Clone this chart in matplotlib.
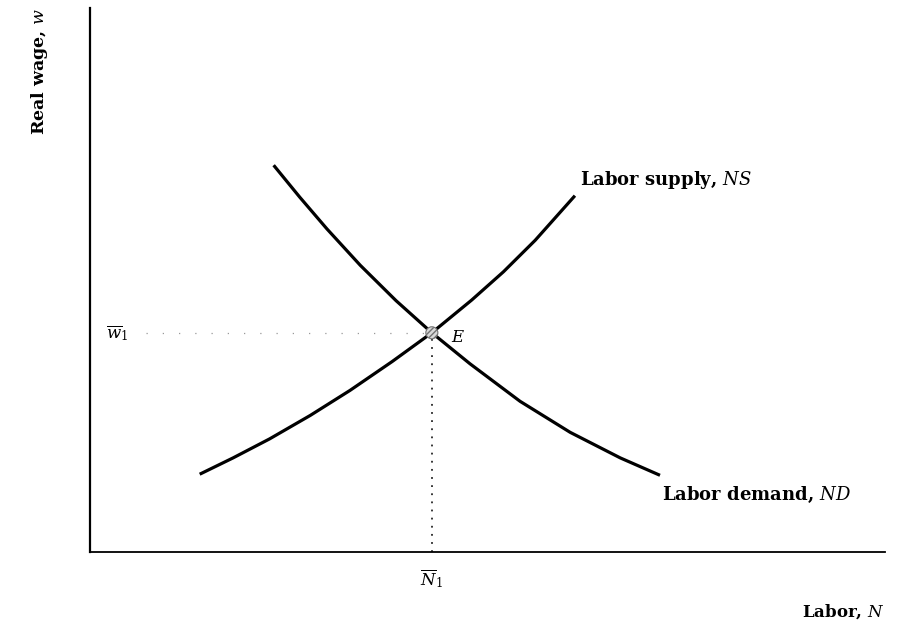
import numpy as np
import matplotlib.pyplot as plt

plt.rcParams['font.family'] = 'DejaVu Serif'
plt.rcParams['mathtext.fontset'] = 'dejavuserif'

# labor supply curve (N, w)
supply_n = [13.8, 18.0, 22.6, 27.7, 32.7, 38.0, 43.0, 48.0, 52.0, 56.0, 61.0]
supply_w = [14.3, 17.3, 20.8, 25.1, 29.7, 35.0, 40.3, 46.3, 51.5, 57.3, 65.5]

# labor demand curve (N, w)
demand_n = [23.1, 26.4, 29.8, 34.0, 38.5, 43.0, 47.8, 54.1, 60.4, 66.7, 71.7]
demand_w = [71.1, 65.2, 59.4, 52.7, 46.2, 40.3, 34.6, 27.7, 22.0, 17.3, 14.1]

# equilibrium
n_eq = 43.0
w_eq = 40.3

fig = plt.figure(figsize=(9, 6.3), dpi=100)
ax = fig.add_axes([0.1, 0.1238, 0.8833, 0.8635])
ax.set_xlim(0, 100)
ax.set_ylim(0, 100)

ax.plot(supply_n, supply_w, color='black', lw=2.3, solid_capstyle='butt')
ax.plot(demand_n, demand_w, color='black', lw=2.3, solid_capstyle='butt')

# guide lines to the axes (the horizontal one is faint in the scan)
ax.plot([7, n_eq], [w_eq, w_eq], color='0.6', lw=0.9, linestyle=(0, (1, 12)))
ax.plot([n_eq, n_eq], [0, w_eq], color='0.15', lw=1.3, linestyle=(0, (1, 3.5)))

ax.scatter([n_eq], [w_eq], s=75, facecolor='0.85', edgecolor='0.45',
           hatch='//////', linewidth=0.8, zorder=5)

ax.text(n_eq + 2.4, w_eq - 0.8, '$E$', fontsize=12, va='center', ha='left')
ax.text(61.6, 68.4, 'Labor supply, $NS$', fontsize=13, va='center', ha='left',
        fontweight='bold')
ax.text(71.9, 10.5, 'Labor demand, $ND$', fontsize=13, va='center', ha='left',
        fontweight='bold')

ax.text(n_eq, -4.8, r'$\overline{N}_1$', fontsize=12, va='center', ha='center',
        clip_on=False)
ax.text(3.4, w_eq, r'$\overline{w}_1$', fontsize=12, va='center', ha='center')

ax.text(100, -11, 'Labor, $N$', fontsize=12, va='center', ha='right',
        fontweight='bold', clip_on=False)
ax.text(-6.3, 100, 'Real wage, $w$', fontsize=12.5, va='top', ha='center',
        rotation=90, fontweight='bold', clip_on=False)

for side in ['top', 'right']:
    ax.spines[side].set_visible(False)
ax.spines['left'].set_linewidth(1.6)
ax.spines['bottom'].set_linewidth(1.3)
ax.set_xticks([])
ax.set_yticks([])

fig.savefig('out.png', dpi=100)
